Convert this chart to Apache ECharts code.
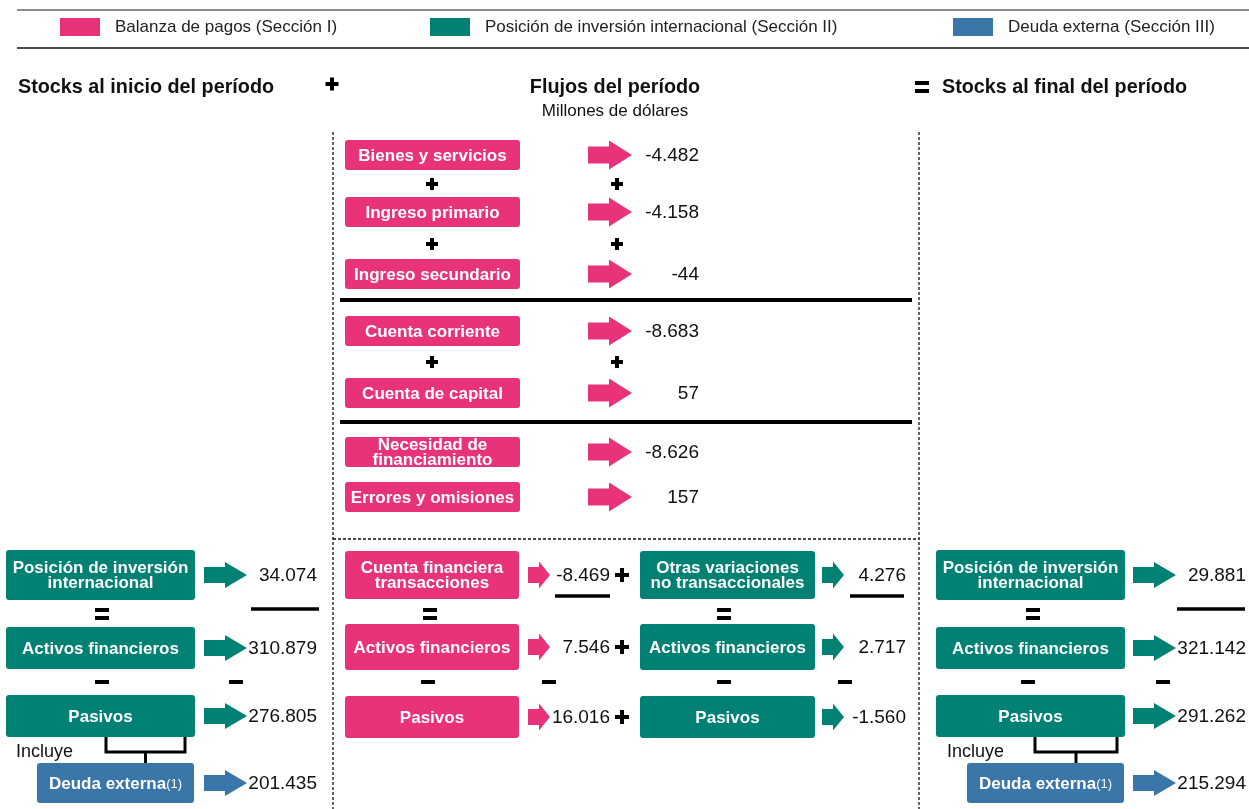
<!DOCTYPE html>
<html>
<head>
<meta charset="utf-8">
<script src="https://cdn.jsdelivr.net/npm/echarts@6/dist/echarts.min.js"></script>
<style>
  html, body { margin: 0; padding: 0; background: #fff; }
  #main { width: 1249px; height: 809px; }
</style>
</head>
<body>
<div id="main"></div>
<script>
// ---- data ----
var legendNames = ['Balanza de pagos (Sección I)', 'Posición de inversión internacional (Sección II)', 'Deuda externa (Sección III)'];
var headerTitles = ['Stocks al inicio del período', 'Flujos del período', 'Stocks al final del período'];
var unitLabel = 'Millones de dólares';
var includeLabel = 'Incluye';

var flowLabels = ['Bienes y servicios', 'Ingreso primario', 'Ingreso secundario', 'Cuenta corriente',
  'Cuenta de capital', 'Necesidad de\nfinanciamiento', 'Errores y omisiones'];
var flowValues = [-4482, -4158, -44, -8683, 57, -8626, 157];

var stockLabels = ['Posición de inversión\ninternacional', 'Activos financieros', 'Pasivos', 'Deuda externa'];
var stockStart = [34074, 310879, 276805, 201435];
var stockEnd = [29881, 321142, 291262, 215294];

var finTxLabels = ['Cuenta financiera\ntransacciones', 'Activos financieros', 'Pasivos'];
var finTxValues = [-8469, 7546, 16016];
var otherLabels = ['Otras variaciones\nno transaccionales', 'Activos financieros', 'Pasivos'];
var otherValues = [4276, 2717, -1560];

// ---- styles / layout ----
var PINK = '#E8327A', TEAL = '#008174', BLUE = '#3B76A8';
var FONT = "'Liberation Sans', Arial, Helvetica, sans-serif";

var bigArrow = { len: 44, shaftLen: 21, shaft: 17, head: 29 };
var stockArrow = { len: 43, shaftLen: 21, shaft: 16, head: 26 };
var smallArrow = { len: 22, shaftLen: 11, shaft: 16, head: 27 };

var flowRowsY = [155, 212, 274, 331, 393, 452, 497];
var stockRowsY = [575, 648, 716, 783], stockRowsH = [50, 42, 42, 40];
var midRowsY = [575, 647, 717], midRowsH = [48, 46, 42];

function fmt(v) {
  var s = Math.abs(v).toString().replace(/\B(?=(\d{3})+(?!\d))/g, '.');
  return (v < 0 ? '-' : '') + s;
}

function arrowShape(P, x0, cy, a, color) {
  var pts = [[x0, cy - a.shaft / 2], [x0 + a.shaftLen, cy - a.shaft / 2], [x0 + a.shaftLen, cy - a.head / 2],
    [x0 + a.len, cy], [x0 + a.shaftLen, cy + a.head / 2], [x0 + a.shaftLen, cy + a.shaft / 2], [x0, cy + a.shaft / 2]];
  return { type: 'polygon', shape: { points: pts.map(function (p) { return P(p[0], p[1]); }) }, style: { fill: color } };
}

function rectEl(P, x, y, w, h, color, r) {
  var a = P(x, y), b = P(x + w, y + h);
  return { type: 'rect', shape: { x: a[0], y: a[1], width: b[0] - a[0], height: b[1] - a[1], r: r || 0 }, style: { fill: color } };
}

function textEl(P, x, y, text, font, align, fill, extra) {
  var p = P(x, y);
  var st = { text: text, x: p[0], y: p[1], font: font, align: align || 'left', verticalAlign: 'middle', fill: fill || '#111' };
  if (extra) for (var k in extra) st[k] = extra[k];
  return { type: 'text', style: st };
}

// one block column: box + arrow + value for each row
function blockSeries(name, color, labels, values, cfg) {
  return {
    type: 'custom', name: name, coordinateSystem: 'cartesian2d',
    itemStyle: { color: color }, silent: true,
    data: values.map(function (v, i) { return [i, v]; }),
    renderItem: function (params, api) {
      var P = function (x, y) { return api.coord([x, y]); };
      var i = params.dataIndex;
      var cy = cfg.rowsY[i], h = cfg.rowsH ? cfg.rowsH[i] : cfg.boxH;
      var bx = cfg.boxX, bw = cfg.boxW;
      var kids = [];
      kids.push(rectEl(P, bx, cy - h / 2, bw, h, color, 3));
      var label = labels[i];
      if (cfg.note) {
        kids.push(textEl(P, bx + bw / 2, cy + 1, '{b|' + label + '}{s|' + cfg.note + '}', null, 'center', '#fff', {
          rich: { b: { font: 'bold 17px ' + FONT, fill: '#fff' }, s: { font: '13px ' + FONT, fill: '#fff' } }
        }));
      } else {
        kids.push(textEl(P, bx + bw / 2, cy + 1, label, 'bold 17px ' + FONT, 'center', '#fff', { lineHeight: 15 }));
      }
      kids.push(arrowShape(P, cfg.arrowX, cy, cfg.arrow, color));
      kids.push(textEl(P, cfg.valueX, cy + 1, fmt(values[i]), '19px ' + FONT, 'right', '#111'));
      return { type: 'group', children: kids };
    }
  };
}

var flowCfg = { boxX: 345, boxW: 175, boxH: 30, rowsY: flowRowsY, arrowX: 588, arrow: bigArrow, valueX: 699 };
var leftCfg = { boxX: 6, boxW: 189, rowsY: stockRowsY, rowsH: stockRowsH, arrowX: 204, arrow: stockArrow, valueX: 317 };
var leftDebtCfg = { boxX: 37, boxW: 157, boxH: 40, rowsY: [stockRowsY[3]], arrowX: 204, arrow: stockArrow, valueX: 317, note: '(1)' };
var rightCfg = { boxX: 936, boxW: 189, rowsY: stockRowsY, rowsH: stockRowsH, arrowX: 1133, arrow: stockArrow, valueX: 1246 };
var rightDebtCfg = { boxX: 967, boxW: 157, boxH: 40, rowsY: [stockRowsY[3]], arrowX: 1133, arrow: stockArrow, valueX: 1246, note: '(1)' };
var txCfg = { boxX: 345, boxW: 174, rowsY: midRowsY, rowsH: midRowsH, arrowX: 528, arrow: smallArrow, valueX: 610 };
var othCfg = { boxX: 640, boxW: 175, rowsY: midRowsY, rowsH: midRowsH, arrowX: 822, arrow: smallArrow, valueX: 906 };

// signs and rules
function plus(P, cx, cy, s, t) {
  return [rectEl(P, cx - s / 2, cy - t / 2, s, t, '#000'), rectEl(P, cx - t / 2, cy - s / 2, t, s, '#000')];
}
function equals(P, cx, cy, w, t, g) {
  return [rectEl(P, cx - w / 2, cy - g / 2 - t, w, t, '#000'), rectEl(P, cx - w / 2, cy + g / 2, w, t, '#000')];
}
function minus(P, cx, cy, w, t) { return [rectEl(P, cx - w / 2, cy - t / 2, w, t, '#000')]; }
function line(P, x1, y1, x2, y2, w, color, dash) {
  var a = P(x1, y1), b = P(x2, y2);
  return { type: 'line', shape: { x1: a[0], y1: a[1], x2: b[0], y2: b[1] }, style: { stroke: color || '#000', lineWidth: w, lineDash: dash || null } };
}

var plusSigns = [[332, 84, 13], [432, 184, 12], [617, 184, 12], [432, 244, 12], [617, 244, 12], [432, 362, 12], [617, 362, 12],
  [622, 575, 14], [622, 647, 14], [622, 717, 14]];
var eqSigns = [[922, 87], [102, 614], [430, 614], [724, 614], [1033, 614]];
var minusSigns = [[102, 682], [236, 682], [428, 682], [549, 682], [724, 682], [845, 682], [1028, 682], [1163, 682]];
var underlines = [[251, 319, 609], [1177, 1245, 609], [555, 610, 596], [850, 904, 596]];
var brackets = [[106, 185, 737, 752, 763], [1035, 1117, 737, 752, 763]];

var decor = {
  type: 'custom', name: 'decor', coordinateSystem: 'cartesian2d', silent: true,
  data: [[0, 0]],
  renderItem: function (params, api) {
    var P = function (x, y) { return api.coord([x, y]); };
    var k = [];
    k.push(line(P, 17, 10, 1249, 10, 2, '#8c8c8c'));
    k.push(line(P, 17, 48, 1249, 48, 1.5, '#111'));
    k.push(textEl(P, 18, 88, headerTitles[0], 'bold 19.8px ' + FONT, 'left'));
    k.push(textEl(P, 615, 88, headerTitles[1], 'bold 19.8px ' + FONT, 'center'));
    k.push(textEl(P, 615, 111, unitLabel, '17px ' + FONT, 'center'));
    k.push(textEl(P, 942, 88, headerTitles[2], 'bold 19.8px ' + FONT, 'left'));
    k.push(textEl(P, 16, 752, includeLabel, '18px ' + FONT, 'left'));
    k.push(textEl(P, 947, 752, includeLabel, '18px ' + FONT, 'left'));
    k.push(line(P, 333, 132, 333, 809, 1.3, '#111', [3, 2]));
    k.push(line(P, 919, 132, 919, 809, 1.3, '#111', [3, 2]));
    k.push(line(P, 333, 539, 919, 539, 1.3, '#111', [3, 2]));
    k.push(line(P, 340, 300, 912, 300, 4));
    k.push(line(P, 340, 422, 912, 422, 4));
    plusSigns.forEach(function (s) { k = k.concat(plus(P, s[0], s[1], s[2], 4)); });
    eqSigns.forEach(function (s) { k = k.concat(equals(P, s[0], s[1], 14, 4, 4)); });
    minusSigns.forEach(function (s) { k = k.concat(minus(P, s[0], s[1], 14, 4)); });
    underlines.forEach(function (u) { k.push(line(P, u[0], u[2], u[1], u[2], 3.5)); });
    brackets.forEach(function (b) {
      var mid = (b[0] + b[1]) / 2;
      k.push({ type: 'polyline', shape: { points: [P(b[0], b[2]), P(b[0], b[3]), P(b[1], b[3]), P(b[1], b[2])] }, style: { stroke: '#000', lineWidth: 3, fill: null } });
      k.push(line(P, mid, b[3], mid, b[4], 3));
    });
    return { type: 'group', children: k };
  }
};

function legendAt(name, left) {
  return {
    data: [name], left: left, top: 13, itemWidth: 40, itemHeight: 18, icon: 'rect',
    selectedMode: false, textStyle: { fontSize: 17, color: '#222', fontFamily: FONT, padding: [6, 0, 0, 10] }
  };
}

var chart = echarts.init(document.getElementById('main'));
chart.setOption({
  animation: false,
  grid: { left: 0, right: 0, top: 0, bottom: 0 },
  xAxis: { type: 'value', min: 0, max: 1249, show: false },
  yAxis: { type: 'value', min: 0, max: 809, inverse: true, show: false },
  legend: [legendAt(legendNames[0], 55), legendAt(legendNames[1], 425), legendAt(legendNames[2], 948)],
  series: [
    decor,
    blockSeries(legendNames[0], PINK, flowLabels, flowValues, flowCfg),
    blockSeries(legendNames[0], PINK, finTxLabels, finTxValues, txCfg),
    blockSeries(legendNames[1], TEAL, otherLabels, otherValues, othCfg),
    blockSeries(legendNames[1], TEAL, stockLabels.slice(0, 3), stockStart.slice(0, 3), leftCfg),
    blockSeries(legendNames[1], TEAL, stockLabels.slice(0, 3), stockEnd.slice(0, 3), rightCfg),
    blockSeries(legendNames[2], BLUE, stockLabels.slice(3), stockStart.slice(3), leftDebtCfg),
    blockSeries(legendNames[2], BLUE, stockLabels.slice(3), stockEnd.slice(3), rightDebtCfg)
  ]
});
</script>
</body>
</html>
